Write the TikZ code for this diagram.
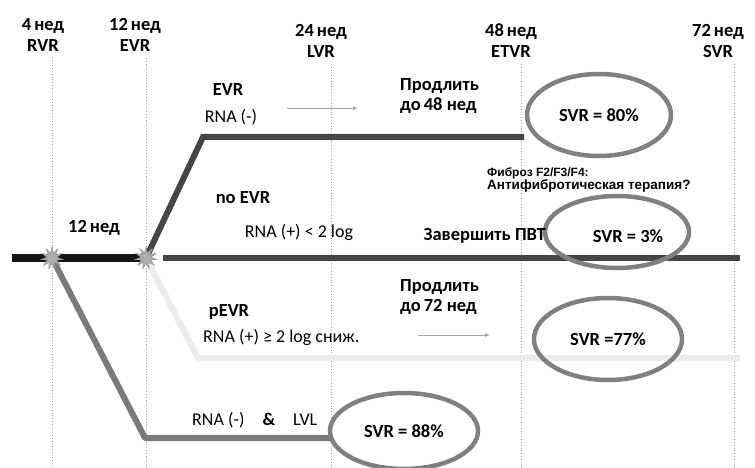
\documentclass[tikz,border=0pt]{standalone}
\usepackage{fontspec}
\setmainfont{Carlito}
\newfontfamily\arialb{Liberation Sans}
\usetikzlibrary{shapes.geometric,arrows.meta}
\definecolor{ellgray}{HTML}{808080}
\definecolor{dkline}{HTML}{454545}
\definecolor{midline}{HTML}{7A7A7A}
\definecolor{ltline}{HTML}{EBEBEB}
\begin{document}
\begin{tikzpicture}[x=1pt,y=-1pt,
  hdr/.style={font=\bfseries\fontsize{18.5}{21}\selectfont, align=center, inner sep=0pt},
  grid/.style={draw=gray!70, dotted, line width=0.8pt},
  lbl/.style={font=\fontsize{18}{20}\selectfont, inner sep=0pt},
  blbl/.style={font=\bfseries\fontsize{18.5}{20}\selectfont, inner sep=0pt},
  svr/.style={draw=ellgray, line width=4.5pt, ellipse, font=\bfseries\fontsize{18.5}{20}\selectfont},
  burst/.style={star, star points=11, star point ratio=2.2, fill=gray!65, draw=gray!80, line width=0.6pt, minimum size=22pt, inner sep=0pt},
  thinarrow/.style={draw=gray!70, line width=0.9pt, -{Latex[length=5pt,width=4pt]}},
  ]
\useasboundingbox (0,0) rectangle (755,468);
% header labels
\node[hdr] (h4)  at (43,35)  {4\,нед\\RVR};
\node[hdr] (h12) at (135,35) {12\,нед\\EVR};
\node[hdr] (h24) at (321,41) {24\,нед\\LVR};
\node[hdr] (h48) at (511,41) {48\,нед\\ETVR};
\node[hdr] (h72) at (718,41) {72\,нед\\SVR};
% dotted guides
\coordinate (g4t) at (52,57);   \coordinate (g4b) at (52,468);
\coordinate (g12t) at (146,58); \coordinate (g12b) at (146,468);
\coordinate (g24t) at (331,64); \coordinate (g24b) at (331,468);
\coordinate (g48t) at (521,64); \coordinate (g48b) at (521,468);
\coordinate (g72t) at (734,64); \coordinate (g72b) at (734,468);
\foreach \g in {4,12,24,48,72} \draw[grid] (g\g t) -- (g\g b);
% branch coordinates
\coordinate (m0) at (12,258);
\coordinate (s1) at (52,258);
\coordinate (s2) at (146,258);
\coordinate (m2) at (163,258);
\coordinate (m3) at (740,258);
\coordinate (e1) at (203,137);
\coordinate (e2) at (524,137);
\coordinate (p1) at (198,358);
\coordinate (p2) at (740,358);
\coordinate (r1) at (145,438);
\coordinate (r2) at (332,438);
% lines
\draw[ltline, line width=6pt, line join=round] (s2) -- (p1) -- (p2);
\draw[midline, line width=6pt, line join=round] (s1) -- (r1) -- (r2);
\draw[dkline, line width=6pt] (m2) -- (m3);
\draw[dkline, line width=6pt, line join=miter] (s2) -- (e1) -- (e2);
\draw[black!92, line width=7.5pt] (m0) -- (s2);
\node[burst] (b1) at (s1) {};
\node[burst] (b2) at (s2) {};
% ellipses
\node[svr, minimum width=144pt, minimum height=82pt] (v80) at (599,115) {SVR = 80\%};
\node[svr, minimum width=144pt, minimum height=72pt] (v3)  at (617,232) {\phantom{SVR = 3\%}};
\node[blbl] (v3t) at (628,236) {SVR = 3\%};
\node[svr, minimum width=148pt, minimum height=82pt] (v77) at (608,339) {SVR =77\%};
\node[svr, minimum width=148pt, minimum height=76pt] (v88) at (404,431) {SVR = 88\%};
% texts
\node[blbl] (tevr) at (228,90) {EVR};
\node[lbl] (trna1) at (231,117) {RNA (-)};
\coordinate (a1s) at (287,108); \coordinate (a1e) at (358,108);
\draw[thinarrow] (a1s) -- (a1e);
\node[blbl, align=left, anchor=west, font=\bfseries\fontsize{18.5}{20}\selectfont] (pr48) at (400,96) {Продлить\\до\,48 нед};
\node[anchor=west, inner sep=0pt, align=left, font=\arialb\bfseries\fontsize{13.5}{11}\selectfont] (fib) at (487,180) {{\fontsize{12}{10}\selectfont Фиброз F2/F3/F4:}\\Антифибротическая терапия?};
\node[blbl] (noevr) at (243,198) {no EVR};
\node[blbl] (t12) at (94,228) {12\,нед};
\node[lbl] (trna2) at (299,232) {RNA (+) < 2 log};
\node[blbl, anchor=east] (zav) at (546,236) {Завершить ПВТ};
\node[blbl] (pevr) at (229,312) {pEVR};
\node[lbl, anchor=west] (trna3) at (203,337) {RNA (+) ≥ 2 log сниж.};
\node[blbl, align=left, anchor=west, font=\bfseries\fontsize{18.5}{20}\selectfont] (pr72) at (400,297) {Продлить\\до\,72 нед};
\coordinate (a2s) at (418,335); \coordinate (a2e) at (490,335);
\draw[thinarrow] (a2s) -- (a2e);
\node[lbl, anchor=west] (trna4) at (192,420) {RNA (-)\quad\textbf{\&}\quad LVL};
\end{tikzpicture}
\end{document}
